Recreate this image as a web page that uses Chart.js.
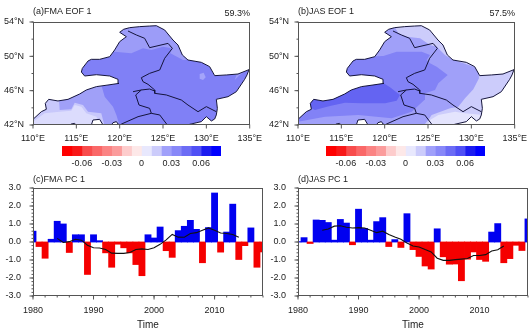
<!DOCTYPE html>
<html>
<head>
<meta charset="utf-8">
<title>EOF and PC</title>
<script src="https://cdn.jsdelivr.net/npm/chart.js@4"></script>
<style>
  html, body { margin: 0; padding: 0; background: #fff; }
  #page { position: relative; width: 529px; height: 336px; overflow: hidden; }
  #page canvas { position: absolute; }
</style>
</head>
<body>
<div id="page">
  <canvas id="mapA"></canvas>
  <canvas id="mapB"></canvas>
  <canvas id="barA"></canvas>
  <canvas id="barB"></canvas>
  <canvas id="pcA"></canvas>
  <canvas id="pcB"></canvas>
</div>
<script>
// ---- data ----
const years = [1980,1981,1982,1983,1984,1985,1986,1987,1988,1989,1990,1991,1992,1993,1994,1995,1996,1997,1998,1999,
  2000,2001,2002,2003,2004,2005,2006,2007,2008,2009,2010,2011,2012,2013,2014,2015,2016,2017,2018];
const fmaPC = [0.6,-0.25,-0.9,0.15,1.15,1.0,-0.58,0.4,0.4,-1.8,0.4,0.07,-0.6,-1.4,-0.12,-0.32,-0.6,-1.25,-1.87,0.4,
  0.22,0.83,-0.48,-0.85,0.63,0.87,1.2,0.7,-1.15,0.8,2.72,-0.56,0.55,2.1,-0.97,-0.2,0.78,-1.4,-0.55];
const jasPC = [0.02,0.24,-0.08,1.22,1.2,1.08,0.1,1.25,1.05,-0.15,1.82,0.75,0.1,1.13,1.35,-0.25,0.13,-0.3,1.57,-0.42,
  -0.8,-1.33,-1.5,0.73,-0.82,-1.23,-1.22,-2.15,-0.95,-0.55,-0.97,-1.07,0.55,1.02,-1.15,-0.92,-0.18,-0.47,1.28];
const smoothYears = [1984,1985,1986,1987,1988,1989,1990,1991,1992,1993,1994,1995,1996,1997,1998,1999,
  2000,2001,2002,2003,2004,2005,2006,2007,2008,2009,2010,2011,2012,2013,2014];
const fmaSmooth = [0.2,-0.03,0.02,0.15,0.1,-0.18,-0.32,-0.33,-0.42,-0.62,-0.63,-0.63,-0.58,-0.42,-0.38,-0.42,
  -0.32,-0.13,0.12,0.42,0.27,0.26,0.47,0.52,0.65,0.78,0.65,0.5,0.47,0.42,0.27];
const jasSmooth = [0.65,0.72,0.88,0.9,0.82,0.78,0.8,0.78,0.65,0.52,0.6,0.42,0.28,0.15,-0.05,-0.22,
  -0.28,-0.42,-0.55,-0.9,-1.02,-1.02,-0.98,-0.95,-0.92,-0.75,-0.75,-0.7,-0.5,-0.43,-0.22];

const pcTicksX = [1980,1990,2000,2010];
const pcTicksY = [-3,-2,-1,0,1,2,3];
const lonTicks = [110,115,120,125,130,135];
const latTicks = [42,46,50,54];
const barTicks = [-0.06,-0.03,0,0.03,0.06];
const barEdges = [-0.08,-0.07,-0.06,-0.05,-0.04,-0.03,-0.02,-0.01,0,0.01,0.02,0.03,0.04,0.05,0.06,0.07,0.08];
const barColors = ['#ff0000','#f81818','#f84c4c','#fa6868','#fb8484','#fb9c9c','#fdcccc','#fde8e8',
  '#e8e8fd','#ccccfb','#a0a0fa','#8888f8','#6c6cf5','#5050f5','#1c1cf0','#0000ff'];

// outline of the region, lon/lat
const outline = [[110,42],[110,42.66],[110.96,43.55],[111.54,43.83],[111.42,44.52],[111.81,44.99],[112.88,44.8],[114.04,44.99],
  [115.38,45.61],[116.15,46.08],[117.31,46.47],[118.65,46.66],[119.92,46.85],[119.81,47.32],[118.85,47.71],[117.31,47.86],
  [115.96,47.71],[115.58,48.17],[115.69,48.6],[116.35,49.46],[116.73,49.65],[117.69,49.65],[118.85,49.96],[119.42,50.74],
  [120,51.71],[120.77,52.29],[120,52.8],[120.46,53.15],[121.15,53.34],[122.31,53.46],[123.46,53.53],[124.23,53.57],
  [125.19,53.07],[126.15,51.9],[126.73,51.32],[127.23,50.16],[127.88,49.57],[129.42,49.3],[130.38,48.8],[130.96,47.75],
  [132.31,47.83],[133.65,47.94],[134.92,48.45],[134.69,47.83],[134.42,47.32],[133.46,45.88],[132.5,45.3],[131.15,44.99],
  [131.27,43.94],[131.15,43.17],[130.96,42.7],[130.58,42.47],[130,42.97],[129.42,42.39],[128.08,42.08],[127.88,42],
  [120,42],[119.81,42.12],[119.62,42.39],[119.23,42.27],[119.04,42],[118.08,42],[117.69,42.66],[116.92,42.58],
  [116.73,42],[115,42],[114.81,42.19],[114.42,42.12],[114.23,42],[110,42]];
const plotCorners = [[110,42],[135,42],[135,54],[110,54],[110,42]];

// province borders
const borderNorth = [[120.96,52.95],[121.92,52.49],[122.88,52.1],[123.46,51.01],[125.58,51.51],[126.08,50.93],[125.19,49.77],
  [124.62,48.41],[123.46,48.02],[122.5,47.51],[122.69,47.05],[123.27,46.74],[124.04,46.08],[124.04,45.69],[125.38,45.5],
  [127.12,44.91],[127.88,44.33],[129.04,43.55],[130,44.14],[131.15,43.55]];
const borderMid = [[121.54,45.88],[122.5,46.08],[123.46,46.19],[124.04,45.96]];
const borderSouth = [[122.5,46.08],[121.85,45.5],[122.23,44.33],[123.46,43.94],[123.65,43.36],[124.62,43.17],[125.5,42]];
const borderLiao = [[123.65,43.36],[122.12,42.97],[120.38,42.19],[120,42]];

// FMA contours
const fmaNorth = [[118.85,50.74],[119.42,50.54],[121.35,50.35],[122.69,50.93],[123.65,50.74],[125,51.13],[125.96,50.93],
  [125.85,50.35],[127.31,49.57],[129.23,49.57],[129.23,54],[118.85,54]];
const fmaBlob = [[129.23,47.94],[129.69,48.1],[129.92,47.55],[129.62,47.24],[129.23,47.4]];
const fmaEast = [[133.27,47.24],[133.85,47.83],[135,48.6],[133.65,48.33]];
const fmaSW = [[112.69,44.91],[117.88,46.66],[118.27,45.3],[119.23,44.14],[119.62,43.17],[120,41.9],[110,41.9],[110,43.36]];
const fmaLight = [[111.15,45.3],[113,44.91],[113.08,43.75],[114.42,43.83],[114.81,44.6],[115.77,44.33],[116.35,43.55],
  [117.88,43.36],[118.08,42.58],[118.27,41.9],[110,41.9],[110,43.36]];
const fmaLightest = [[110,42.39],[111.35,43.36],[113.08,43.55],[114.42,43.67],[114.81,44.33],[115.58,44.14],[116.15,43.36],
  [117.31,42.97],[117.88,41.9],[110,41.9]];

// JAS contours
const jasMid1 = [[120.81,54],[121.58,52.68],[122.54,52.29],[124.08,52.1],[125.23,51.32],[126,51.13],[126.96,50.16],[127.73,49.65],
  [130.81,48.6],[130.88,47.44],[130.23,46.16],[129.27,45.11],[128.5,44.14],[127.54,43.94],[125.42,43.17],[125.04,42.58],
  [124.46,41.9],[110,41.9],[110,54]];
const jasMid2 = [[110,42.39],[113.12,42.97],[116.96,43.17],[120.81,42.78],[123.12,43.55],[124.58,44.91],[124.65,45.69],[125.81,46.08],
  [126.19,46.85],[127.27,47.83],[126,48.8],[125.23,49.18],[124.85,49.57],[125.23,50.16],[124.27,50.54],[122.73,50.54],
  [121.38,50.54],[119.85,50.04],[117.73,49.96],[115.81,49.77],[110,49.77]];
const jasDark = [[111.19,44.14],[111.96,43.75],[113.69,44.21],[115.42,44.6],[117.35,44.52],[120.04,44.52],[121.38,44.83],
  [121.77,45.5],[120.62,46.39],[119.27,47.24],[111.19,45.69]];
const jasLight = [[124.92,41.9],[125.23,42.58],[126.19,43.17],[128.12,43.55],[129.27,43.36],[131.38,43.17],[131.58,41.9]];

// ---- styling ----
const FONT = '"Liberation Sans", Arial, sans-serif';
const TEXT = '#222';
const AXIS = '#555';
const BLUE = '#0000f0';
const RED = '#f50000';
Chart.defaults.animation = false;
Chart.defaults.font.family = FONT;
Chart.defaults.font.size = 9;
Chart.defaults.color = TEXT;

// frame, tick marks and free-standing labels
const nclFrame = {
  id: 'nclFrame',
  afterDraw(chart, args, opts) {
    const ctx = chart.ctx;
    const a = chart.chartArea;
    const { x, y } = chart.scales;
    const L = Math.round(a.left) + 0.5, R = Math.round(a.right) - 0.5;
    const T = Math.round(a.top) + 0.5, B = Math.round(a.bottom) - 0.5;
    ctx.save();
    ctx.strokeStyle = AXIS;
    ctx.lineWidth = 1;
    ctx.strokeRect(L, T, R - L, B - T);
    const mark = (x0, y0, x1, y1) => { ctx.beginPath(); ctx.moveTo(x0, y0); ctx.lineTo(x1, y1); ctx.stroke(); };
    for (const t of x.ticks) mark(x.getPixelForValue(t.value), B, x.getPixelForValue(t.value), B + 4);
    for (const t of y.ticks) mark(L, y.getPixelForValue(t.value), L - 4, y.getPixelForValue(t.value));
    if (opts.xMinor) {
      for (let v = x.min; v <= x.max + 1e-6; v += opts.xMinor) mark(x.getPixelForValue(v), B, x.getPixelForValue(v), B + 2);
    }
    if (opts.yMinor) {
      for (let v = y.min; v <= y.max + 1e-6; v += opts.yMinor) mark(L, y.getPixelForValue(v), L - 2, y.getPixelForValue(v));
    }
    ctx.fillStyle = TEXT;
    ctx.font = '9px ' + FONT;
    ctx.textBaseline = 'middle';
    for (const lab of opts.labels || []) {
      ctx.textAlign = lab.align || 'left';
      ctx.fillText(lab.text, lab.x, lab.y);
    }
    ctx.restore();
  }
};

function pts(list) {
  return list.map(p => ({ x: p[0], y: p[1] }));
}

function place(id, left, top, width, height) {
  const c = document.getElementById(id);
  c.style.left = left + 'px';
  c.style.top = top + 'px';
  c.width = width;
  c.height = height;
  return c;
}

function tickScale(min, max, ticks, label, padding, fit) {
  return {
    type: 'linear', min, max, offset: false, z: 1,
    grid: { display: false, drawTicks: false },
    border: { display: false },
    afterBuildTicks: s => { s.ticks = ticks.map(v => ({ value: v })); },
    afterFit: fit,
    ticks: { callback: label, padding, autoSkip: false, maxRotation: 0, minRotation: 0 }
  };
}

function drawMap(id, left, base, contours, title, pct) {
  const polygon = (list, color) => ({
    type: 'line', data: pts(list), fill: 'shape', backgroundColor: color,
    borderWidth: 0, pointRadius: 0, tension: 0
  });
  const border = list => ({
    type: 'line', data: pts(list), fill: false, borderColor: '#14143c',
    borderWidth: 1, pointRadius: 0, tension: 0
  });
  const datasets = [polygon(outline, base)];
  contours.forEach(c => datasets.push(polygon(c[0], c[1])));
  // white everywhere outside the region, then the borders on top
  datasets.push(polygon(outline.concat(plotCorners), '#ffffff'));
  datasets.push(border(outline));
  [borderNorth, borderMid, borderSouth, borderLiao].forEach(b => datasets.push(border(b)));
  datasets.forEach((d, i) => { d.order = -i; });
  new Chart(place(id, left, 0, 270, 146), {
    type: 'line',
    data: { datasets },
    options: {
      responsive: false,
      layout: { padding: { top: 22, right: 20 } },
      plugins: {
        legend: { display: false }, tooltip: { enabled: false },
        nclFrame: { yMinor: 2, labels: [
          { text: title, x: 33, y: 12 },
          { text: pct, x: 250, y: 14, align: 'right' }
        ] }
      },
      scales: {
        x: tickScale(110, 135, lonTicks, v => v + '°E', 8, s => { s.height = 21; }),
        y: tickScale(42, 54, latTicks, v => v + '°N', 9, s => { s.width = 33; })
      }
    },
    plugins: [nclFrame]
  });
}

function drawColorbar(id, left) {
  const datasets = barColors.map((c, i) => ({
    data: [[barEdges[i], barEdges[i + 1]]],
    backgroundColor: c, barPercentage: 1, categoryPercentage: 1, grouped: false
  }));
  new Chart(place(id, left, 146, 190, 24), {
    type: 'bar',
    data: { labels: [''], datasets },
    options: {
      indexAxis: 'y', responsive: false,
      layout: { padding: { left: 14, right: 17 } },
      plugins: { legend: { display: false }, tooltip: { enabled: false } },
      scales: {
        x: {
          type: 'linear', min: -0.08, max: 0.08,
          grid: { display: false, drawTicks: false }, border: { display: false },
          afterBuildTicks: s => { s.ticks = barTicks.map(v => ({ value: v })); },
          afterFit: s => { s.height = 14; },
          ticks: { padding: 2, autoSkip: false, maxRotation: 0, callback: v => v === 0 ? '0' : v.toFixed(2) }
        },
        y: { display: false, grid: { display: false } }
      }
    }
  });
}

function drawPC(id, left, rightPad, values, smooth, title) {
  new Chart(place(id, left, 170, left ? 264 : 270, 161), {
    data: {
      datasets: [
        { type: 'line', data: smoothYears.map((y, i) => ({ x: y, y: smooth[i] })), borderColor: '#111',
          borderWidth: 1.1, pointRadius: 0, tension: 0, fill: false, order: 0 },
        { type: 'bar', data: years.map((y, i) => ({ x: y, y: values[i] })),
          backgroundColor: values.map(v => v < 0 ? RED : BLUE),
          barPercentage: 1, categoryPercentage: 1, inflateAmount: 0.4, order: 1 }
      ]
    },
    options: {
      responsive: false,
      layout: { padding: { top: 18, right: rightPad } },
      plugins: {
        legend: { display: false }, tooltip: { enabled: false },
        nclFrame: { xMinor: 2, yMinor: 0.2, labels: [{ text: title, x: 33, y: 9.5 }] }
      },
      scales: {
        x: Object.assign(tickScale(1980, 2018, pcTicksX, v => String(v), 9, s => { s.height = 35; }),
          { title: { display: true, text: 'Time', font: { size: 10 }, padding: 0, color: TEXT } }),
        y: tickScale(-3, 3, pcTicksY, v => v.toFixed(1), 12, s => { s.width = 33; })
      }
    },
    plugins: [nclFrame]
  });
}

drawMap('mapA', 0, '#8080f6', [
  [fmaNorth, '#9c9cf8'], [fmaBlob, '#a4a4fa'], [fmaEast, '#9c9cf8'],
  [fmaSW, '#a0a0f8'], [fmaLight, '#c8c8fb'], [fmaLightest, '#dcdcfd']
], '(a)FMA EOF 1', '59.3%');
drawMap('mapB', 265, '#ccccfb', [
  [jasMid1, '#a0a0f9'], [jasMid2, '#8282f6'], [jasDark, '#6464f2'], [jasLight, '#e4e4fd']
], '(b)JAS EOF 1', '57.5%');
drawColorbar('barA', 48);
drawColorbar('barB', 312);
drawPC('pcA', 0, 7, fmaPC, fmaSmooth, '(c)FMA PC 1');
drawPC('pcB', 265, 1, jasPC, jasSmooth, '(d)JAS PC 1');
</script>
</body>
</html>
